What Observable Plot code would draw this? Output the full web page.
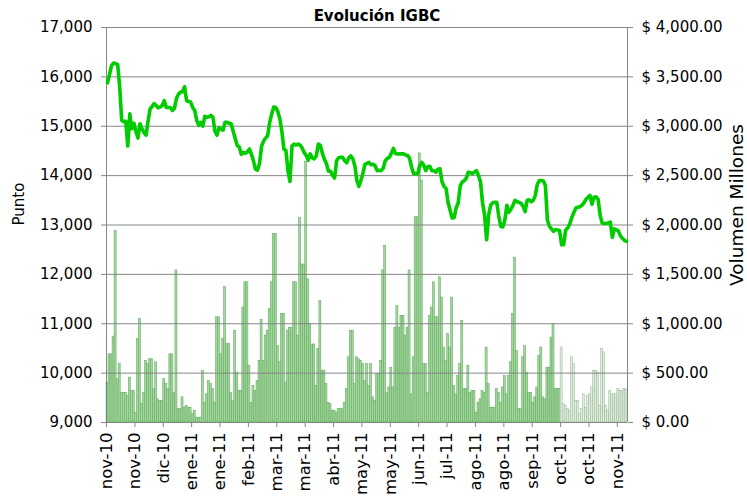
<!DOCTYPE html>
<html><head><meta charset="utf-8">
<script src="https://cdn.jsdelivr.net/npm/d3@7"></script>
<script src="https://cdn.jsdelivr.net/npm/@observablehq/plot@0.6"></script>
<style>
body{margin:0;background:#fff;}
#wrap{position:relative;width:747px;height:504px;}
</style></head><body><div id="wrap"></div>
<script>
const title = "Evolución IGBC";
const yTitleLeft = "Punto";
const yTitleRight = "Volumen Millones";
const xLabels = ["nov-10","nov-10","dic-10","ene-11","ene-11","feb-11","mar-11","mar-11","abr-11","may-11","may-11","jun-11","jul-11","ago-11","ago-11","sep-11","oct-11","oct-11","nov-11"];
const leftTicks = [9000,10000,11000,12000,13000,14000,15000,16000,17000];
const rightTicks = [0,500,1000,1500,2000,2500,3000,3500,4000];

// IGBC daily close (points)
const igbc = [
15880,16050,16230,16280,16270,16250,15800,15120,15090,15100,
14600,15250,14950,15060,14900,14760,15050,14950,14870,14820,
15100,15350,15400,15460,15420,15370,15390,15420,15520,15380,
15380,15380,15320,15360,15560,15650,15690,15700,15800,15520,
15500,15490,15380,15320,15120,15020,15080,15000,15200,15180,
15190,15220,15180,14900,14820,14970,14940,14920,15080,15080,
15060,15050,14900,14750,14610,14580,14430,14470,14450,14480,
14540,14430,14300,14130,14110,14250,14600,14700,14760,14810,
15080,15250,15390,15380,15300,15150,14900,14540,14510,14100,
13880,14600,14640,14620,14640,14620,14560,14470,14410,14310,
14440,14360,14340,14400,14640,14610,14450,14330,14240,14090,
14090,14010,13950,14300,14360,14370,14370,14300,14260,14360,
14400,14340,14200,13900,13780,13900,14050,14230,14250,14270,
14220,14230,14200,14100,14110,14100,14150,14300,14350,14370,
14450,14550,14450,14440,14440,14440,14440,14420,14410,14350,
14170,14040,14040,14040,14200,14270,14210,14100,14180,14190,
14100,14100,14070,14130,14140,13880,13780,13740,13450,13300,
13140,13150,13350,13450,13800,13870,13900,13950,14070,14060,
14040,14070,14100,14000,13870,13450,13200,12700,13200,13400,
13450,13460,13460,13180,12970,12960,13100,13400,13260,13320,
13400,13500,13470,13460,13440,13380,13270,13500,13510,13470,
13500,13600,13820,13900,13900,13890,13800,13100,12970,12920,
12870,12910,12900,12890,12600,12600,12900,12940,13020,13150,
13250,13340,13360,13370,13400,13450,13520,13560,13600,13420,
13560,13570,13520,13200,13040,13030,13030,13040,13060,12750,
12920,12900,12880,12780,12730,12690,12670];

// Daily traded volume ($ millones)
const volumen = [
400,690,690,870,1940,440,590,300,300,300,
270,455,320,320,100,845,1050,185,300,625,
590,640,640,340,610,235,220,220,440,390,
340,690,690,300,1540,135,135,255,150,170,
150,150,85,120,50,45,50,520,200,285,
420,390,340,200,1065,1065,690,845,1370,795,
795,300,220,930,505,320,320,1165,1420,1420,
575,200,370,320,420,625,1040,625,880,930,
1150,1420,1910,1910,775,610,1100,1100,405,930,
960,960,1420,1420,880,2070,1600,1600,2640,1450,
1000,790,790,370,745,1230,525,525,390,200,
185,120,120,100,135,135,135,200,340,660,
930,930,390,660,640,625,590,420,590,370,
590,255,220,490,490,625,1540,1790,300,355,
555,355,960,1180,960,1080,1080,880,960,1540,
285,660,2080,2080,2725,2450,590,590,300,1080,
1165,1420,1065,1065,1470,1265,760,625,895,760,
1265,370,285,470,590,1030,340,340,575,300,
320,320,100,200,235,320,300,760,390,150,
150,150,340,300,200,355,470,285,470,610,
1100,1670,725,135,135,660,775,505,300,300,
200,255,355,675,760,255,235,555,555,860,
1000,340,340,340,760,185,170,135,120,660,
590,220,220,85,135,285,150,270,285,355,
525,525,505,170,745,710,170,120,320,285,
285,285,340,320,320,340,330];

const N = igbc.length;
const rows = igbc.map((v, i) => ({i, igbc: v, vol: volumen[i]}));
const xTickPos = xLabels.map((_, k) => k * 14);
// volume axis (right) shares the frame: $0 -> 9,000 pts, $4,000 -> 17,000 pts
const volToPts = v => 9000 + v * 2;
const gray = "#868686";

const chart = Plot.plot({
  width: 747, height: 504,
  marginTop: 27, marginBottom: 82, marginLeft: 106, marginRight: 120,
  style: {fontFamily: "'DejaVu Sans', Verdana, sans-serif", fontSize: "15px", background: "#fff", overflow: "visible", color: "#000"},
  x: {type: "linear", domain: [0, N], axis: null},
  y: {domain: [9000, 17000], axis: null},
  marks: [
    Plot.rectY(rows, {
      x1: "i", x2: d => d.i + 1, y1: () => 9000, y2: d => volToPts(d.vol),
      fill: d => d.i >= 224 ? "#dfeedd" : "#a3d89c",
      stroke: d => d.i >= 224 ? "#94b494" : "#5ba35a",
      strokeWidth: 0.5
    }),
    Plot.gridY(leftTicks, {stroke: gray, strokeOpacity: 1, strokeWidth: 1}),
    Plot.ruleX([0, N], {stroke: gray, strokeWidth: 1}),
    Plot.ruleY([9000], {stroke: gray, strokeWidth: 1}),
    Plot.line(rows, {x: d => d.i + 0.5, y: "igbc", stroke: "#00cc00", strokeWidth: 3.6, strokeLinejoin: "round", curve: "linear"}),
    Plot.axisY({anchor: "left", label: null, ticks: leftTicks, tickFormat: d3.format(","), tickSize: 5, tickPadding: 9, stroke: gray, fill: "#000"}),
    Plot.axisY({anchor: "right", label: null, ticks: rightTicks.map(volToPts), tickFormat: d => "$ " + d3.format(",.2f")((d - 9000) / 2), tickSize: 5, tickPadding: 9, stroke: gray, fill: "#000"}),
    Plot.axisX({label: null, ticks: xTickPos, tickFormat: d => xLabels[xTickPos.indexOf(d)], tickRotate: -90, tickSize: 5, tickPadding: 5, fontSize: 16.5, stroke: gray, fill: "#000"})
  ]
});
document.getElementById("wrap").appendChild(chart);

const svg = d3.select(chart);
svg.append("text").attr("x", 377).attr("y", 21).attr("text-anchor", "middle")
  .attr("font-weight", "bold").attr("font-size", 15).attr("fill", "#000").text(title);
svg.append("text").attr("transform", "translate(24,204) rotate(-90)").attr("text-anchor", "middle")
  .attr("font-size", 15).attr("fill", "#000").text(yTitleLeft);
svg.append("text").attr("transform", "translate(743,205) rotate(-90)").attr("text-anchor", "middle")
  .attr("font-size", 18.5).attr("fill", "#000").text(yTitleRight);
</script></body></html>
